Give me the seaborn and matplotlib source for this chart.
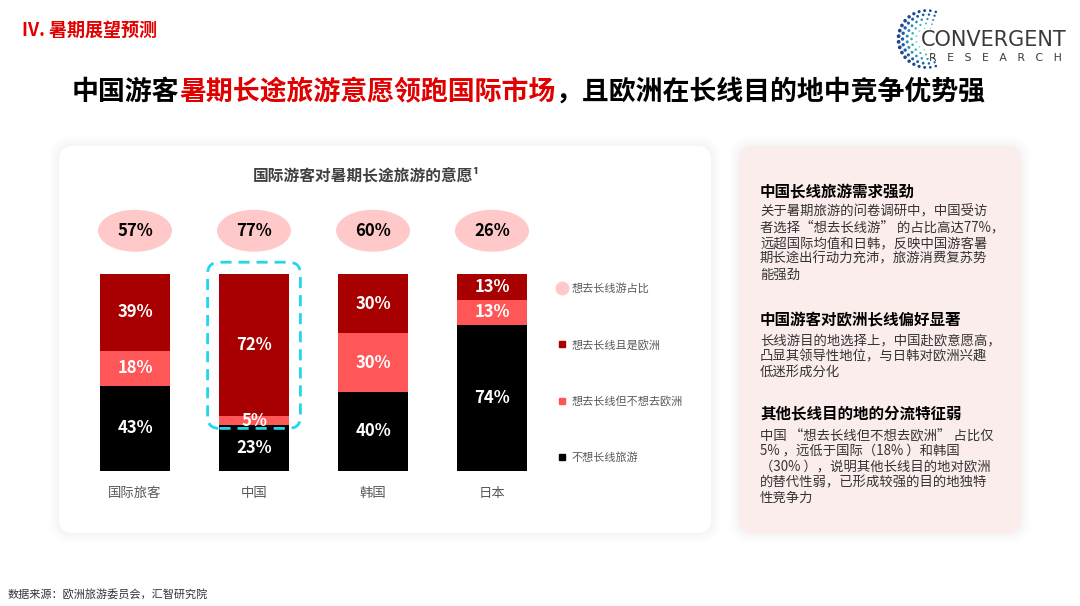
import numpy as np
import pandas as pd
import seaborn as sns
import matplotlib.pyplot as plt
from matplotlib.patches import FancyBboxPatch, Ellipse
from matplotlib.lines import Line2D

# data
categories = ["国际旅客", "中国", "韩国", "日本"]
europe = [39, 72, 30, 13]            # 想去长线且是欧洲
long_not_europe = [18, 5, 30, 13]    # 想去长线但不想去欧洲
no_long = [43, 23, 40, 74]           # 不想长线旅游
long_share = [57, 77, 60, 26]        # 想去长线游占比
legend_labels = ["想去长线游占比", "想去长线且是欧洲", "想去长线但不想去欧洲", "不想长线旅游"]

dark_red = "#A80000"
light_red = "#FF5757"
pink = "#FFC9C9"
cyan = "#22D6EE"

sns.set_style("white")
plt.rcParams["font.family"] = ["Noto Sans CJK SC", "DejaVu Sans"]

df = pd.DataFrame({"cat": categories, "europe": europe, "other": long_not_europe, "no": no_long})
df["mid"] = df["no"] + df["other"]
df["total"] = df["mid"] + df["europe"]

fig = plt.figure(figsize=(10.8, 6.06), dpi=100)

# background axes in pixel coordinates (y downwards)
bg = fig.add_axes([0, 0, 1, 1])
bg.set_xlim(0, 1080)
bg.set_ylim(606, 0)
bg.axis("off")


def panel(x0, y0, x1, y1, face):
    # soft shadow then the card itself
    for k in range(10, 0, -1):
        bg.add_patch(FancyBboxPatch((x0 - k, y0 - k), x1 - x0 + 2 * k, y1 - y0 + 2 * k,
                                    boxstyle="round,pad=0,rounding_size=%d" % (14 + k),
                                    fc="#000000", ec="none", alpha=0.0035))
    bg.add_patch(FancyBboxPatch((x0, y0), x1 - x0, y1 - y0,
                                boxstyle="round,pad=0,rounding_size=14",
                                fc=face, ec="none"))


panel(59, 146, 711, 533, "white")
panel(739, 146, 1021, 533, "#FCEDED")

# header and title
bg.text(22, 30, "IV. 暑期展望预测", color="#E00000", fontsize=13, fontweight="bold", va="center")
t1 = bg.text(72, 92, "中国游客", fontsize=19.4, fontweight="bold", va="center", color="black")
t2 = bg.annotate("暑期长途旅游意愿领跑国际市场", xy=(1, 0.5), xycoords=t1, fontsize=19.4,
                 fontweight="bold", va="center", ha="left", color="#E00000")
bg.annotate("，且欧洲在长线目的地中竞争优势强", xy=(1, 0.5), xycoords=t2, fontsize=19.4,
            fontweight="bold", va="center", ha="left", color="black")

# logo: C-shaped dot rings
cx, cy = 927, 39
ring_cols = ["#8ED8CB", "#2FB3A8", "#2A8CC0", "#1E5FA8", "#1E4690"]
for j, r in enumerate([11, 15.5, 20, 24.5, 28.5]):
    n = 8 + j * 3
    ang = np.linspace(np.radians(72), np.radians(288), n)
    size = (2 + j * 1.4) * (0.3 + 0.7 * np.abs(np.sin(ang / 2)) ** 3)
    bg.scatter(cx + r * np.cos(ang), cy - r * np.sin(ang), s=size, c=ring_cols[j],
               linewidths=0, zorder=3)
bg.text(921, 40, "CONVERGENT", fontsize=15, family="DejaVu Sans", color="#3A3A3A",
        va="center")
bg.text(929, 58, "R   E   S   E   A   R   C   H", fontsize=7.8, family="DejaVu Sans",
        color="#3A3A3A", va="center")

# right panel text
sections = [
    ("中国长线旅游需求强劲", 192, 211.7, [
        "关于暑期旅游的问卷调研中，中国受访",
        "者选择“想去长线游” 的占比高达77%，",
        "远超国际均值和日韩，反映中国游客暑",
        "期长途出行动力充沛，旅游消费复苏势",
        "能强劲"]),
    ("中国游客对欧洲长线偏好显著", 320.7, 340.7, [
        "长线游目的地选择上，中国赴欧意愿高，",
        "凸显其领导性地位，与日韩对欧洲兴趣",
        "低迷形成分化"]),
    ("其他长线目的地的分流特征弱", 413.3, 435, [
        "中国 “想去长线但不想去欧洲” 占比仅",
        "5% ，远低于国际（18% ）和韩国",
        "（30% ），说明其他长线目的地对欧洲",
        "的替代性弱，已形成较强的目的地独特",
        "性竞争力"]),
]
for head, hy, by, lines in sections:
    bg.text(760, hy, head, fontsize=11.2, fontweight="bold", color="black", va="center")
    for i, line in enumerate(lines):
        bg.text(760, by + 15.7 * i, line, fontsize=9.6, color="#333333", va="center")

bg.text(8, 594, "数据来源：欧洲旅游委员会，汇智研究院", fontsize=8, color="#333333",
        style="italic", va="center")

# chart title
bg.text(366, 175, "国际游客对暑期长途旅游的意愿¹", fontsize=11.3, fontweight="bold",
        color="#404040", ha="center", va="center")

# chart
ax = fig.add_axes([75.5 / 1080, (606 - 470.7) / 606, 476 / 1080, 267.5 / 606])
ax.patch.set_alpha(0)
bar_w = 70 / 119
sns.barplot(data=df, x="cat", y="total", color=dark_red, saturation=1, width=bar_w,
            linewidth=0, ax=ax)
sns.barplot(data=df, x="cat", y="mid", color=light_red, saturation=1, width=bar_w,
            linewidth=0, ax=ax)
sns.barplot(data=df, x="cat", y="no", color="black", saturation=1, width=bar_w,
            linewidth=0, ax=ax)
ax.set_xlim(-0.5, 3.5)
ax.set_ylim(0, 136)
sns.despine(ax=ax, left=True, bottom=True)
ax.set_yticks([])
ax.set_xlabel("")
ax.set_ylabel("")
ax.tick_params(axis="x", length=0, pad=11, labelsize=9.6, labelcolor="#595959")

for i, row in df.iterrows():
    for val, mid in [(row["no"], row["no"] / 2),
                     (row["other"], row["no"] + row["other"] / 2),
                     (row["europe"], row["mid"] + row["europe"] / 2)]:
        ax.text(i, mid, f"{val}%", color="white", fontsize=12, fontweight="bold",
                ha="center", va="center")
    ax.add_patch(Ellipse((i, 122), 74 / 119, 42 / 1.967, fc=pink, ec="none", clip_on=False))
    ax.text(i, 122, f"{long_share[i]}%", color="black", fontsize=12, fontweight="bold",
            ha="center", va="center")

# dashed highlight around China
aspect = (476 / 4) / (267.5 / 136)
ax.add_patch(FancyBboxPatch((1 - 0.39, 21.5), 0.78, 84.5, boxstyle="round,pad=0,rounding_size=0.1",
                            mutation_aspect=aspect, fc="none", ec=cyan, lw=2,
                            ls=(0, (4, 2.5)), clip_on=False, zorder=5))

handles = [Line2D([], [], marker="o", ls="", markersize=9, color=pink),
           Line2D([], [], marker="s", ls="", markersize=5, color=dark_red),
           Line2D([], [], marker="s", ls="", markersize=5, color=light_red),
           Line2D([], [], marker="s", ls="", markersize=5, color="black")]
bg.legend(handles, legend_labels, loc="upper left", bbox_to_anchor=(556, 283),
          bbox_transform=bg.transData, frameon=False, fontsize=8, labelspacing=4.1,
          handlelength=1.0, handletextpad=0.4, borderpad=0, borderaxespad=0,
          labelcolor="#595959")

fig.savefig("out.png", dpi=100)
